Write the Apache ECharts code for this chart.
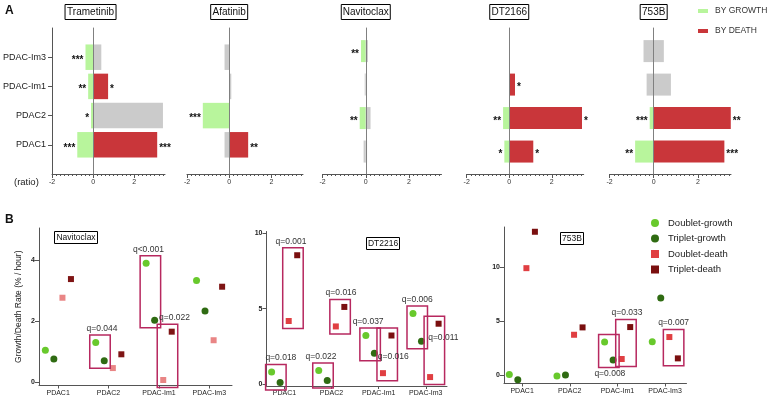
<!DOCTYPE html>
<html>
<head>
<meta charset="utf-8">
<script src="https://cdn.jsdelivr.net/npm/echarts@6/dist/echarts.min.js"></script>
<style>
  html, body { margin: 0; padding: 0; background: #fff; }
  #chart { width: 768px; height: 398px; }
</style>
</head>
<body>
<div id="chart"></div>
<script>
const FONT = '"Liberation Sans", Arial, sans-serif'

// cell lines, bottom to top in panel A, left to right in panel B
const cellLines = ['PDAC1', 'PDAC2', 'PDAC-Im1', 'PDAC-Im3']

// ---- panel A: ratio split into growth part (negative) and death part (positive)
const drugsA = ['Trametinib', 'Afatinib', 'Navitoclax', 'DT2166', '753B']
const growthA = [
  [-0.77, -0.1, -0.24, -0.37],   // Trametinib
  [-0.22, -1.25, 0, -0.22],      // Afatinib
  [-0.1, -0.28, -0.05, -0.22],   // Navitoclax
  [-0.23, -0.29, 0, 0],          // DT2166
  [-0.84, -0.18, -0.32, -0.46]   // 753B
]
const deathA = [
  [3.12, 3.4, 0.73, 0.4],
  [0.9, 0, 0.1, 0],
  [0.06, 0.22, 0, 0.1],
  [1.13, 3.42, 0.27, 0],
  [3.2, 3.49, 0.78, 0.46]
]
const growthSigA = [
  ['***', '*', '**', '***'],
  ['', '***', '', ''],
  ['', '**', '', '**'],
  ['*', '**', '', ''],
  ['**', '***', '', '']
]
const deathSigA = [
  ['***', '', '*', ''],
  ['**', '', '', ''],
  ['', '', '', ''],
  ['*', '*', '*', ''],
  ['***', '**', '', '']
]
const ratioTicks = [-2, 0, 2]

// ---- panel B: growth / death rates (% / hour)
const drugsB = ['Navitoclax', 'DT2216', '753B']
const doubletGrowth = [
  [1.05, 1.31, 3.9, 3.33],
  [0.8, 0.91, 3.22, 4.67],
  [0.09, -0.06, 3.08, 3.11]
]
const tripletGrowth = [
  [0.77, 0.71, 2.03, 2.34],
  [0.11, 0.24, 2.04, 2.84],
  [-0.4, 0.03, 1.42, 7.14]
]
const doubletDeath = [
  [2.77, 0.47, 0.08, 1.38],
  [4.18, 3.82, 0.73, 0.47],
  [9.9, 3.75, 1.51, 3.54]
]
const tripletDeath = [
  [3.38, 0.92, 1.66, 3.13],
  [8.53, 5.11, 3.22, 4.0],
  [13.26, 4.43, 4.46, 1.57]
]
const rateTicks = [[0, 2, 4], [0, 5, 10], [0, 5, 10]]
// boxed pairs: [cell line, which pair, q value]
const qPairs = [
  [[1, 'growth', 'q=0.044'], [2, 'growth', 'q<0.001'], [2, 'death', 'q=0.022']],
  [[0, 'growth', 'q=0.018'], [0, 'death', 'q=0.001'], [1, 'growth', 'q=0.022'], [1, 'death', 'q=0.016'],
   [2, 'growth', 'q=0.037'], [2, 'death', 'q=0.016'], [3, 'growth', 'q=0.006'], [3, 'death', 'q=0.011']],
  [[2, 'growth', 'q=0.008'], [2, 'death', 'q=0.033'], [3, 'death', 'q=0.007']]
]

// ---- layout / style
const GREEN_A = '#b8f59c'
const RED_A = '#c9363a'
const GRAY_A = '#cbcbcb'
const B_COLORS = [
  ['#68c92c', '#2f6b12', '#e98585', '#7e1414'],
  ['#68c92c', '#2f6b12', '#e03f42', '#7a0f0f'],
  ['#68c92c', '#2f6b12', '#e03f42', '#7a0f0f']
]
const BOX_COLOR = '#b7285f'
const aLeft = [48, 187, 322.5, 466.7, 609.5]
const aWidth = [117, 116, 119, 117, 121.5]
const aRows = [[-1, 4, 25.5], [-1, 4, 25.5], [-0.67, 3.69, 22], [-0.67, 3.69, 22], [-0.67, 3.69, 22]]
const bGrid = [
  { left: 39, top: 228, width: 193, height: 157.5, min: -0.1, max: 5.05 },
  { left: 266.5, top: 231.5, width: 180.5, height: 154.5, min: -0.12, max: 10.1 },
  { left: 504, top: 227, width: 182.5, height: 156.5, min: -0.75, max: 13.7 }
]
const bTitleX = [76, 383, 572]
const bTitleY = [231, 237, 232]
const dodge = [-12.8, -4.3, 4.3, 12.8]
// q label placement: [where, dx, dy]
const qPlace = [
  [['top', 2, 0], ['top', -2, 0], ['top', 7, 0]],
  [['top', 5, 0], ['top', -2, 0], ['top', -2, 0], ['top', 1, 0],
   ['top', -2, 0], ['mid', 6, 29], ['top', 0, 0], ['mid', 9, 21]],
  [['bottom', 1, 0], ['top', 1, 0], ['top', 0, 0]]
]

const grids = []
const xAxes = []
const yAxes = []
const series = []
const titles = []

const axisLineStyle = { color: '#555', width: 1 }

function barRenderer(values, sigs, color, h) {
  return (params, api) => {
    const v = values[params.dataIndex]
    if (!v) return null
    const row = api.value(1)
    const a = api.coord([0, row])
    const b = api.coord([v, row])
    const sig = sigs[params.dataIndex]
    return {
      type: 'rect',
      shape: { x: Math.min(a[0], b[0]), y: a[1] - h / 2, width: Math.abs(b[0] - a[0]), height: h },
      style: { fill: sig ? color : GRAY_A },
      textContent: {
        style: { text: sig, fontSize: 10, fontWeight: 'bold', fill: '#111', fontFamily: FONT }
      },
      textConfig: { position: v < 0 ? 'left' : 'right', distance: 2, offset: [0, 3] }
    }
  }
}

drugsA.forEach((drug, i) => {
  const [ymin, ymax, barH] = aRows[i]
  grids.push({ left: aLeft[i], top: 28, width: aWidth[i], height: 146 })
  xAxes.push({
    gridIndex: i, type: 'value', min: -2, max: 3.5, interval: 2,
    axisLine: { onZero: false, lineStyle: axisLineStyle },
    axisTick: { customValues: ratioTicks, length: 4, lineStyle: axisLineStyle },
    minorTick: { show: true, splitNumber: 10, length: 2, lineStyle: axisLineStyle },
    axisLabel: { customValues: ratioTicks, fontSize: 7, margin: 5, color: '#333', fontFamily: FONT },
    splitLine: { show: false }
  })
  const yIndex = yAxes.length
  yAxes.push({
    gridIndex: i, type: 'value', min: ymin, max: ymax, z: 5,
    axisLine: { onZero: true, lineStyle: { color: '#808080', width: 1 } },
    axisTick: { show: false }, axisLabel: { show: false }, splitLine: { show: false }
  })
  if (i === 0) {
    yAxes.push({
      gridIndex: 0, type: 'value', min: ymin, max: ymax, position: 'left',
      axisLine: { onZero: false, lineStyle: axisLineStyle },
      axisTick: { customValues: [0, 1, 2, 3], length: 4, lineStyle: axisLineStyle },
      axisLabel: {
        customValues: [0, 1, 2, 3], formatter: v => cellLines[v],
        fontSize: 9, margin: 6, color: '#222', fontFamily: FONT
      },
      splitLine: { show: false }
    })
  }
  series.push({
    name: 'BY GROWTH', type: 'custom', xAxisIndex: i, yAxisIndex: yIndex,
    data: growthA[i].map((v, k) => [v, k]),
    renderItem: barRenderer(growthA[i], growthSigA[i], GREEN_A, barH)
  })
  series.push({
    name: 'BY DEATH', type: 'custom', xAxisIndex: i, yAxisIndex: yIndex,
    data: deathA[i].map((v, k) => [v, k]),
    renderItem: barRenderer(deathA[i], deathSigA[i], RED_A, barH)
  })
  titles.push({
    text: drug, left: aLeft[i] + aWidth[i] * 2 / 5.5 - 2, top: 4, textAlign: 'center',
    borderColor: '#000', borderWidth: 1, padding: [3, 2, 2, 2],
    textStyle: { fontSize: 10, fontWeight: 'normal', color: '#111', fontFamily: FONT, lineHeight: 11 }
  })
})

const bNames = ['Doublet-growth', 'Triplet-growth', 'Doublet-death', 'Triplet-death']

function boxRenderer(j) {
  return (params, api) => {
    const [cat, pair, q] = qPairs[j][params.dataIndex]
    const [where, dx, dy] = qPlace[j][params.dataIndex]
    const vals = pair === 'growth'
      ? [doubletGrowth[j][cat], tripletGrowth[j][cat]]
      : [doubletDeath[j][cat], tripletDeath[j][cat]]
    const offs = pair === 'growth' ? [dodge[0], dodge[1]] : [dodge[2], dodge[3]]
    const p1 = api.coord([cat, vals[0]])
    const p2 = api.coord([cat, vals[1]])
    const x0 = Math.min(p1[0] + offs[0], p2[0] + offs[1]) - 6
    const x1 = Math.max(p1[0] + offs[0], p2[0] + offs[1]) + 6
    const y0 = Math.min(p1[1], p2[1]) - 7.5
    const y1 = Math.max(p1[1], p2[1]) + 7.5
    const cx = (x0 + x1) / 2
    let ty = y0 - 2, va = 'bottom'
    if (where === 'bottom') { ty = y1 + 2; va = 'top' }
    if (where === 'mid') { ty = y0 + dy; va = 'middle' }
    return {
      type: 'group',
      children: [
        { type: 'rect', shape: { x: x0, y: y0, width: x1 - x0, height: y1 - y0 },
          style: { fill: 'none', stroke: BOX_COLOR, lineWidth: 1.5 } },
        { type: 'text', x: cx + dx, y: ty,
          style: { text: q, fontSize: 8.5, fill: '#333', align: 'center', verticalAlign: va, fontFamily: FONT } }
      ]
    }
  }
}

drugsB.forEach((drug, j) => {
  const g = bGrid[j]
  const gi = grids.length
  grids.push({ left: g.left, top: g.top, width: g.width, height: g.height })
  xAxes.push({
    gridIndex: gi, type: 'value', min: -0.38, max: 3.45,
    axisLine: { onZero: false, lineStyle: axisLineStyle },
    axisTick: { customValues: [0, 1, 2, 3], length: 3, lineStyle: axisLineStyle },
    axisLabel: {
      customValues: [0, 1, 2, 3], formatter: v => cellLines[v],
      fontSize: 7, margin: 4, color: '#222', fontFamily: FONT
    },
    splitLine: { show: false }
  })
  const yi = yAxes.length
  yAxes.push({
    gridIndex: gi, type: 'value', min: g.min, max: g.max,
    axisLine: { onZero: false, lineStyle: axisLineStyle },
    axisTick: { customValues: rateTicks[j], length: 4, lineStyle: axisLineStyle },
    axisLabel: {
      customValues: rateTicks[j], fontSize: 7, fontWeight: 'bold', margin: 4,
      color: '#222', fontFamily: FONT
    },
    splitLine: { show: false },
    name: j === 0 ? 'Growth/Death Rate (% / hour)' : '',
    nameLocation: 'middle', nameGap: 16,
    nameTextStyle: { fontSize: 8.5, color: '#222', fontFamily: FONT }
  })
  const sets = [doubletGrowth[j], tripletGrowth[j], doubletDeath[j], tripletDeath[j]]
  sets.forEach((vals, k) => {
    series.push({
      name: bNames[k], type: 'scatter', xAxisIndex: xAxes.length - 1, yAxisIndex: yi,
      symbol: k < 2 ? 'circle' : 'rect', symbolSize: k < 2 ? 7 : 6,
      symbolOffset: [dodge[k], 0],
      itemStyle: { color: B_COLORS[j][k], opacity: 1 },
      data: vals.map((v, c) => [c, v]), z: 3
    })
  })
  series.push({
    type: 'custom', xAxisIndex: xAxes.length - 1, yAxisIndex: yi, z: 4,
    data: qPairs[j].map(p => [p[0], 0]),
    renderItem: boxRenderer(j)
  })
  titles.push({
    text: drug, left: bTitleX[j] - 2, top: bTitleY[j], textAlign: 'center',
    borderColor: '#000', borderWidth: 1, padding: [2, 2, 1, 2],
    textStyle: { fontSize: 8.5, fontWeight: 'normal', color: '#111', fontFamily: FONT, lineHeight: 10 }
  })
})

titles.push(
  { text: 'A', left: 3, top: 3, padding: 2, textStyle: { fontSize: 12, fontWeight: 'bold', color: '#111', fontFamily: FONT } },
  { text: 'B', left: 3, top: 212, padding: 2, textStyle: { fontSize: 12, fontWeight: 'bold', color: '#111', fontFamily: FONT } },
  { text: '(ratio)', left: 14, top: 177, padding: 0, textStyle: { fontSize: 9.5, fontWeight: 'normal', color: '#222', fontFamily: FONT } }
)

const chart = echarts.init(document.getElementById('chart'))
chart.setOption({
  animation: false,
  title: titles,
  legend: [
    {
      data: [
        { name: 'BY GROWTH', icon: 'rect', itemStyle: { color: GREEN_A } },
        { name: 'BY DEATH', icon: 'rect', itemStyle: { color: RED_A } }
      ],
      orient: 'vertical', left: 698, top: 6, itemWidth: 10, itemHeight: 4, itemGap: 10,
      selectedMode: false, padding: 0,
      textStyle: { fontSize: 8.5, color: '#333', fontFamily: FONT, padding: [0, 0, 0, 2], lineHeight: 10 }
    },
    {
      data: [
        { name: 'Doublet-growth', icon: 'circle', itemStyle: { color: B_COLORS[1][0] } },
        { name: 'Triplet-growth', icon: 'circle', itemStyle: { color: B_COLORS[1][1] } },
        { name: 'Doublet-death', icon: 'rect', itemStyle: { color: B_COLORS[1][2] } },
        { name: 'Triplet-death', icon: 'rect', itemStyle: { color: B_COLORS[1][3] } }
      ],
      orient: 'vertical', left: 651, top: 217, itemWidth: 8, itemHeight: 8, itemGap: 3.5,
      selectedMode: false, padding: 0,
      textStyle: { fontSize: 9.5, color: '#222', fontFamily: FONT, padding: [0, 0, 0, 4], lineHeight: 12 }
    }
  ],
  grid: grids,
  xAxis: xAxes,
  yAxis: yAxes,
  series: series
})
</script>
</body>
</html>
